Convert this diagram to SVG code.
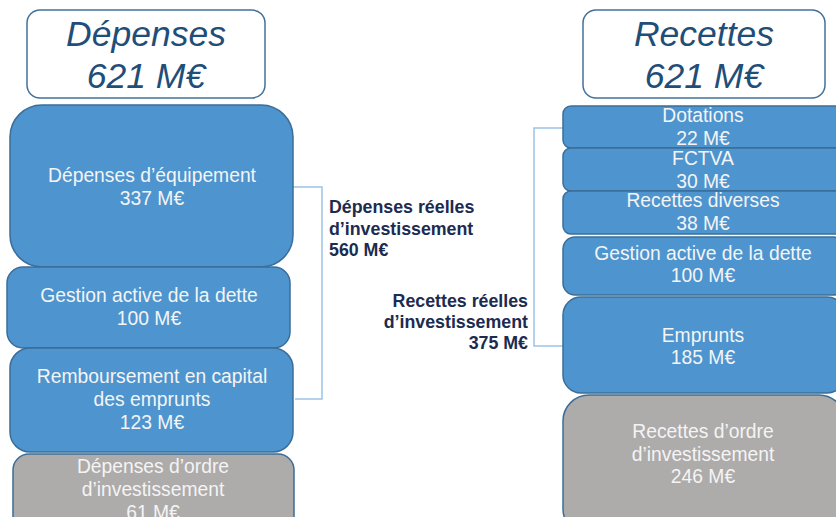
<svg xmlns="http://www.w3.org/2000/svg" width="836" height="517" viewBox="0 0 836 517">
<style>
.hdr{fill:#fff;stroke:#41719c;stroke-width:1.5}
.ht{font-family:"Liberation Sans",Arial,sans-serif;font-style:italic;font-size:35.5px;fill:#1f4e79;text-anchor:middle}
.b{fill:#4e94cf;stroke:#3b6d98;stroke-width:1.5}
.g{fill:#aeabab;stroke:#3b6d98;stroke-width:1.5}
.t{font-family:"Liberation Sans",Arial,sans-serif;font-size:19.3px;fill:#f4f4f4;text-anchor:middle}
.lbl{font-family:"Liberation Sans",Arial,sans-serif;font-size:17.8px;font-weight:bold;fill:#1c2b50}
.br{fill:none;stroke:#9dc3e6;stroke-width:1.5}
</style>
<g id="hdr-depenses"><rect class="hdr" x="27" y="10" width="238" height="88" rx="13"/><text class="ht" x="146" y="46">Dépenses</text><text class="ht" x="146" y="88">621 M€</text></g>
<g id="hdr-recettes"><rect class="hdr" x="583" y="10" width="242" height="88" rx="13"/><text class="ht" x="704" y="46">Recettes</text><text class="ht" x="704" y="88">621 M€</text></g>

<g id="connectors">
<polyline class="br" points="293,187 322,187 322,399 295,399"/>
<polyline class="br" points="563,128 534,128 534,346 563,346"/>
</g>

<g id="dep-equipement"><rect class="b" x="10" y="105" width="283" height="162" rx="32"/><text class="t" x="152" y="182">Dépenses d’équipement</text><text class="t" x="152" y="205">337 M€</text></g>
<g id="dep-gestion"><rect class="b" x="7" y="267" width="283" height="81" rx="16"/><text class="t" x="149" y="302">Gestion active de la dette</text><text class="t" x="149" y="325">100 M€</text></g>
<g id="dep-remboursement"><rect class="b" x="10" y="348" width="283" height="104" rx="20"/><text class="t" x="152" y="383">Remboursement en capital</text><text class="t" x="152" y="406">des emprunts</text><text class="t" x="152" y="429">123 M€</text></g>
<g id="dep-ordre"><rect class="g" x="13" y="454" width="281" height="90" rx="16"/><text class="t" x="153" y="473">Dépenses d’ordre</text><text class="t" x="153" y="496">d’investissement</text><text class="t" x="153" y="519">61 M€</text></g>

<g id="lbl-dep"><text class="lbl" x="329" y="213">Dépenses réelles</text><text class="lbl" x="329" y="235">d’investissement</text><text class="lbl" x="329" y="256">560 M€</text></g>
<g id="lbl-rec"><text class="lbl" x="528" y="307" text-anchor="end">Recettes réelles</text><text class="lbl" x="528" y="328" text-anchor="end">d’investissement</text><text class="lbl" x="528" y="349" text-anchor="end">375 M€</text></g>

<g id="rec-dotations"><rect class="b" x="563" y="106" width="282" height="42" rx="8"/><text class="t" x="703" y="122">Dotations</text><text class="t" x="703" y="145">22 M€</text></g>
<g id="rec-fctva"><rect class="b" x="563" y="148" width="282" height="43" rx="8"/><text class="t" x="703" y="165">FCTVA</text><text class="t" x="703" y="188">30 M€</text></g>
<g id="rec-diverses"><rect class="b" x="563" y="191" width="282" height="43" rx="8"/><text class="t" x="703" y="207">Recettes diverses</text><text class="t" x="703" y="230">38 M€</text></g>
<g id="rec-gestion"><rect class="b" x="563" y="237" width="282" height="58" rx="12"/><text class="t" x="703" y="260">Gestion active de la dette</text><text class="t" x="703" y="282">100 M€</text></g>
<g id="rec-emprunts"><rect class="b" x="563" y="297" width="282" height="96" rx="18"/><text class="t" x="703" y="342">Emprunts</text><text class="t" x="703" y="364">185 M€</text></g>
<g id="rec-ordre"><rect class="g" x="563" y="395" width="282" height="140" rx="26"/><text class="t" x="703" y="438">Recettes d’ordre</text><text class="t" x="703" y="461">d’investissement</text><text class="t" x="703" y="483">246 M€</text></g>
</svg>
